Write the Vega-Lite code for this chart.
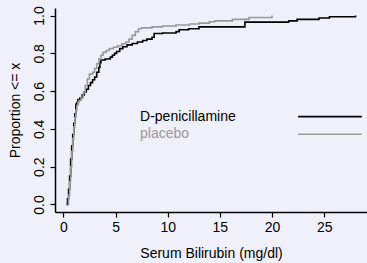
{
  "$schema": "https://vega.github.io/schema/vega-lite/v6.json",
  "width": 312,
  "height": 204,
  "autosize": {"type": "none"},
  "padding": {"left": 55, "top": 8, "right": 0, "bottom": 51},
  "background": "#f0f0fa",
  "config": {
    "view": {"stroke": null},
    "font": "Liberation Sans",
    "axis": {
      "labelFont": "Liberation Sans",
      "titleFont": "Liberation Sans",
      "labelFontSize": 14,
      "titleFontSize": 14,
      "titleFontWeight": "normal",
      "labelColor": "#000000",
      "titleColor": "#000000",
      "domainColor": "#000000",
      "tickColor": "#000000",
      "domainWidth": 1.5,
      "tickWidth": 1.2,
      "tickSize": 5,
      "grid": false
    }
  },
  "datasets": {
    "ecdf": [
      {"group": "D-penicillamine", "bili": 0.3, "p": 0.0},
      {"group": "D-penicillamine", "bili": 0.4, "p": 0.03},
      {"group": "D-penicillamine", "bili": 0.5, "p": 0.08},
      {"group": "D-penicillamine", "bili": 0.6, "p": 0.15},
      {"group": "D-penicillamine", "bili": 0.7, "p": 0.24},
      {"group": "D-penicillamine", "bili": 0.8, "p": 0.31},
      {"group": "D-penicillamine", "bili": 0.9, "p": 0.37},
      {"group": "D-penicillamine", "bili": 1.0, "p": 0.43},
      {"group": "D-penicillamine", "bili": 1.1, "p": 0.48},
      {"group": "D-penicillamine", "bili": 1.2, "p": 0.53},
      {"group": "D-penicillamine", "bili": 1.3, "p": 0.54},
      {"group": "D-penicillamine", "bili": 1.4, "p": 0.555},
      {"group": "D-penicillamine", "bili": 1.6, "p": 0.565},
      {"group": "D-penicillamine", "bili": 1.8, "p": 0.58},
      {"group": "D-penicillamine", "bili": 2.0, "p": 0.595},
      {"group": "D-penicillamine", "bili": 2.2, "p": 0.61},
      {"group": "D-penicillamine", "bili": 2.4, "p": 0.63},
      {"group": "D-penicillamine", "bili": 2.6, "p": 0.645},
      {"group": "D-penicillamine", "bili": 2.8, "p": 0.66},
      {"group": "D-penicillamine", "bili": 3.0, "p": 0.675},
      {"group": "D-penicillamine", "bili": 3.2, "p": 0.7},
      {"group": "D-penicillamine", "bili": 3.4, "p": 0.725},
      {"group": "D-penicillamine", "bili": 3.5, "p": 0.75},
      {"group": "D-penicillamine", "bili": 3.6, "p": 0.765},
      {"group": "D-penicillamine", "bili": 4.0, "p": 0.77},
      {"group": "D-penicillamine", "bili": 4.5, "p": 0.78},
      {"group": "D-penicillamine", "bili": 4.7, "p": 0.79},
      {"group": "D-penicillamine", "bili": 4.9, "p": 0.8},
      {"group": "D-penicillamine", "bili": 5.1, "p": 0.81},
      {"group": "D-penicillamine", "bili": 5.4, "p": 0.825},
      {"group": "D-penicillamine", "bili": 5.7, "p": 0.835},
      {"group": "D-penicillamine", "bili": 6.1, "p": 0.845},
      {"group": "D-penicillamine", "bili": 6.6, "p": 0.852},
      {"group": "D-penicillamine", "bili": 7.1, "p": 0.86},
      {"group": "D-penicillamine", "bili": 7.6, "p": 0.868},
      {"group": "D-penicillamine", "bili": 8.0, "p": 0.875},
      {"group": "D-penicillamine", "bili": 8.5, "p": 0.885},
      {"group": "D-penicillamine", "bili": 8.7, "p": 0.905},
      {"group": "D-penicillamine", "bili": 9.5, "p": 0.908},
      {"group": "D-penicillamine", "bili": 10.8, "p": 0.915},
      {"group": "D-penicillamine", "bili": 11.1, "p": 0.925},
      {"group": "D-penicillamine", "bili": 12.0, "p": 0.93},
      {"group": "D-penicillamine", "bili": 13.0, "p": 0.94},
      {"group": "D-penicillamine", "bili": 17.4, "p": 0.965},
      {"group": "D-penicillamine", "bili": 21.6, "p": 0.972},
      {"group": "D-penicillamine", "bili": 22.4, "p": 0.98},
      {"group": "D-penicillamine", "bili": 24.5, "p": 0.987},
      {"group": "D-penicillamine", "bili": 25.5, "p": 0.994},
      {"group": "D-penicillamine", "bili": 28.0, "p": 1.0},
      {"group": "placebo", "bili": 0.4, "p": 0.0},
      {"group": "placebo", "bili": 0.5, "p": 0.05},
      {"group": "placebo", "bili": 0.6, "p": 0.12},
      {"group": "placebo", "bili": 0.7, "p": 0.2},
      {"group": "placebo", "bili": 0.8, "p": 0.28},
      {"group": "placebo", "bili": 0.9, "p": 0.35},
      {"group": "placebo", "bili": 1.0, "p": 0.41},
      {"group": "placebo", "bili": 1.1, "p": 0.46},
      {"group": "placebo", "bili": 1.2, "p": 0.5},
      {"group": "placebo", "bili": 1.3, "p": 0.525},
      {"group": "placebo", "bili": 1.4, "p": 0.54},
      {"group": "placebo", "bili": 1.5, "p": 0.55},
      {"group": "placebo", "bili": 1.7, "p": 0.565},
      {"group": "placebo", "bili": 1.9, "p": 0.59},
      {"group": "placebo", "bili": 2.1, "p": 0.63},
      {"group": "placebo", "bili": 2.3, "p": 0.665},
      {"group": "placebo", "bili": 2.5, "p": 0.69},
      {"group": "placebo", "bili": 2.8, "p": 0.7},
      {"group": "placebo", "bili": 3.0, "p": 0.72},
      {"group": "placebo", "bili": 3.2, "p": 0.745},
      {"group": "placebo", "bili": 3.4, "p": 0.77},
      {"group": "placebo", "bili": 3.6, "p": 0.79},
      {"group": "placebo", "bili": 3.8, "p": 0.805},
      {"group": "placebo", "bili": 4.1, "p": 0.815},
      {"group": "placebo", "bili": 4.4, "p": 0.825},
      {"group": "placebo", "bili": 4.8, "p": 0.832},
      {"group": "placebo", "bili": 5.2, "p": 0.84},
      {"group": "placebo", "bili": 5.6, "p": 0.85},
      {"group": "placebo", "bili": 6.0, "p": 0.86},
      {"group": "placebo", "bili": 6.3, "p": 0.875},
      {"group": "placebo", "bili": 6.6, "p": 0.895},
      {"group": "placebo", "bili": 6.9, "p": 0.915},
      {"group": "placebo", "bili": 7.2, "p": 0.93},
      {"group": "placebo", "bili": 7.5, "p": 0.935},
      {"group": "placebo", "bili": 8.5, "p": 0.94},
      {"group": "placebo", "bili": 9.5, "p": 0.945},
      {"group": "placebo", "bili": 10.8, "p": 0.95},
      {"group": "placebo", "bili": 12.1, "p": 0.955},
      {"group": "placebo", "bili": 13.0, "p": 0.96},
      {"group": "placebo", "bili": 14.0, "p": 0.967},
      {"group": "placebo", "bili": 14.5, "p": 0.972},
      {"group": "placebo", "bili": 16.2, "p": 0.98},
      {"group": "placebo", "bili": 17.8, "p": 0.99},
      {"group": "placebo", "bili": 20.0, "p": 1.0}
    ],
    "legend": [
      {"group": "D-penicillamine", "tx": 7.35, "lx1": 22.5, "lx2": 28.6, "ly": 0.465},
      {"group": "placebo", "tx": 7.35, "lx1": 22.5, "lx2": 28.6, "ly": 0.372}
    ]
  },
  "layer": [
    {
      "data": {"name": "ecdf"},
      "mark": {"type": "line", "interpolate": "step-after", "strokeWidth": 1.6},
      "encoding": {
        "x": {
          "field": "bili", "type": "quantitative",
          "scale": {"domain": [-0.8, 29.1], "nice": false, "zero": false},
          "axis": {"title": "Serum Bilirubin (mg/dl)", "values": [0, 5, 10, 15, 20, 25], "labelPadding": 3, "titlePadding": 12, "labelFlush": false}
        },
        "y": {
          "field": "p", "type": "quantitative",
          "scale": {"domain": [-0.04, 1.04], "nice": false, "zero": false},
          "axis": {"title": "Proportion <= x", "values": [0, 0.2, 0.4, 0.6, 0.8, 1.0], "format": ".1f", "labelAngle": -90, "labelAlign": "center", "labelBaseline": "bottom", "labelPadding": 4, "titlePadding": 10, "labelFlush": false}
        },
        "color": {
          "field": "group", "type": "nominal",
          "scale": {"domain": ["D-penicillamine", "placebo"], "range": ["#000000", "#999999"]},
          "legend": null
        }
      }
    },
    {
      "data": {"name": "legend"},
      "mark": {"type": "text", "align": "left", "baseline": "middle", "fontSize": 14, "font": "Liberation Sans"},
      "encoding": {
        "x": {"field": "tx", "type": "quantitative"},
        "y": {"field": "ly", "type": "quantitative"},
        "text": {"field": "group"},
        "color": {"field": "group", "type": "nominal", "legend": null}
      }
    },
    {
      "data": {"name": "legend"},
      "mark": {"type": "rule", "strokeWidth": 1.6},
      "encoding": {
        "x": {"field": "lx1", "type": "quantitative"},
        "x2": {"field": "lx2"},
        "y": {"field": "ly", "type": "quantitative"},
        "color": {"field": "group", "type": "nominal", "legend": null}
      }
    }
  ]
}
